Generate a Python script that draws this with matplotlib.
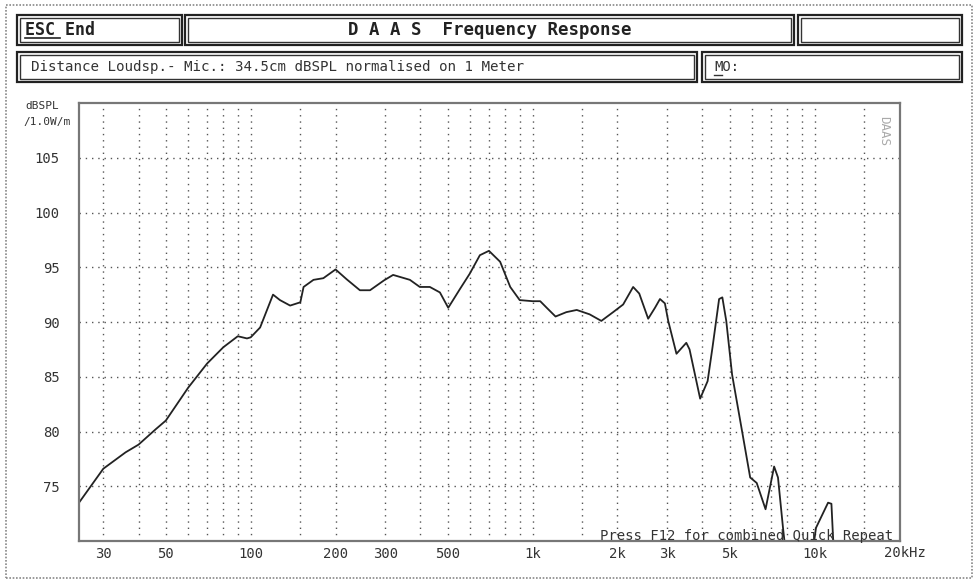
import matplotlib
matplotlib.use("Agg")
import matplotlib.pyplot as plt
from matplotlib.patches import Rectangle
from matplotlib.lines import Line2D
from matplotlib.ticker import FixedLocator, NullFormatter

# ---- data ----
freq_hz = [24.6, 30, 36, 40, 46, 50, 60, 70, 80, 90, 97, 100, 108, 120, 127, 138,
           150, 154, 167, 181, 200, 219, 244, 265, 297, 320, 367, 398, 432, 469,
           502, 552, 598, 650, 700, 767, 833, 900, 1000, 1064, 1122, 1206, 1317,
           1434, 1593, 1753, 1930, 2095, 2273, 2389, 2570, 2717, 2830, 2946, 3027,
           3238, 3509, 3603, 3929, 4176, 4347, 4587, 4710, 4863, 5100, 5527, 5912,
           6236, 6703, 6948, 7189, 7420, 7730, 7900, 8500, 9500, 10120, 11170,
           11480, 11700, 12500]
spl_db = [73.5, 76.6, 78.1, 78.8, 80.2, 81.0, 84.0, 86.2, 87.7, 88.7, 88.5, 88.6,
          89.5, 92.5, 92.0, 91.5, 91.8, 93.2, 93.85, 94.0, 94.8, 93.9, 92.9, 92.9,
          93.8, 94.3, 93.85, 93.2, 93.2, 92.7, 91.3, 93.0, 94.4, 96.1, 96.5, 95.5,
          93.2, 92.0, 91.9, 91.9, 91.3, 90.5, 90.9, 91.1, 90.7, 90.1, 90.9, 91.6,
          93.2, 92.6, 90.3, 91.3, 92.1, 91.7, 90.1, 87.1, 88.1, 87.5, 83.0, 84.6,
          87.7, 92.1, 92.25, 90.1, 85.2, 80.1, 75.8, 75.3, 72.9, 74.9, 76.8, 75.8,
          71.2, 69.0, 66.0, 66.0, 71.2, 73.5, 73.4, 69.0, 66.0]

x_label_ticks = [30, 50, 100, 200, 300, 500, 1000, 2000, 3000, 5000, 10000]
x_label_texts = ["30", "50", "100", "200", "300", "500", "1k", "2k", "3k", "5k", "10k"]
x_grid = [30, 40, 50, 60, 70, 80, 90, 100, 150, 200, 300, 400, 500, 600, 700, 800,
          900, 1000, 1500, 2000, 3000, 4000, 5000, 6000, 7000, 8000, 9000, 10000, 15000]
y_ticks = [75, 80, 85, 90, 95, 100, 105]

W, H = 976, 580
MONO = ["DejaVu Sans Mono"]

def fx(x):
    return x / W

def fy(y):
    return 1 - y / H

fig = plt.figure(figsize=(W / 100, H / 100), dpi=100)
fig.patch.set_facecolor("white")

# outer dotted border
fig.add_artist(Rectangle((fx(6), fy(578)), (972 - 6) / W, (578 - 5) / H,
                         transform=fig.transFigure, fill=False, ec="#888888",
                         lw=1.2, ls=(0, (1, 1))))

# header boxes (double line)
boxes = [(17, 15, 182, 45), (185, 15, 794, 45), (798, 15, 962, 45),
         (17, 52, 697, 82), (702, 52, 962, 82)]
for (x0, y0, x1, y1) in boxes:
    fig.add_artist(Rectangle((fx(x0), fy(y1)), (x1 - x0) / W, (y1 - y0) / H,
                             transform=fig.transFigure, fill=False, ec="#222222", lw=1.6))
    fig.add_artist(Rectangle((fx(x0 + 3), fy(y1 - 3)), (x1 - x0 - 6) / W, (y1 - y0 - 6) / H,
                             transform=fig.transFigure, fill=False, ec="#333333", lw=1.0))

fig.text(fx(25), fy(30), "ESC End", family=MONO, fontsize=12, fontweight="bold",
         ha="left", va="center", color="#222222")
fig.add_artist(Line2D([fx(25), fx(60)], [fy(38), fy(38)], transform=fig.transFigure,
                      color="#222222", lw=1.2))
fig.text(fx(490), fy(30), "D A A S  Frequency Response", family=MONO, fontsize=12.5,
         fontweight="bold", ha="center", va="center", color="#222222")
fig.text(fx(31), fy(67), "Distance Loudsp.- Mic.: 34.5cm dBSPL normalised on 1 Meter",
         family=MONO, fontsize=10.2, ha="left", va="center", color="#333333")
fig.text(fx(714), fy(67), "MO:", family=MONO, fontsize=10, ha="left", va="center",
         color="#333333")
fig.add_artist(Line2D([fx(714), fx(722)], [fy(75), fy(75)], transform=fig.transFigure,
                      color="#333333", lw=1.0))

# plot area
ax = fig.add_axes([fx(79), fy(541), (900 - 79) / W, (541 - 103) / H])
ax.plot(freq_hz, spl_db, color="#222222", lw=1.3, solid_joinstyle="round")
ax.set_xscale("log")
ax.set_xlim(24.6, 20100)
ax.set_ylim(70, 110)

ax.xaxis.set_major_locator(FixedLocator(x_label_ticks))
ax.set_xticklabels(x_label_texts)
ax.xaxis.set_minor_locator(FixedLocator(x_grid))
ax.xaxis.set_minor_formatter(NullFormatter())
ax.set_yticks(y_ticks)
ax.set_yticklabels([str(v) for v in y_ticks])

ax.tick_params(axis="both", which="both", length=0)
ax.tick_params(axis="x", pad=4, labelsize=10, labelcolor="#333333")
ax.tick_params(axis="y", pad=14, labelsize=10, labelcolor="#333333")
for lab in ax.get_xticklabels() + ax.get_yticklabels():
    lab.set_family(MONO)

ax.grid(False)
for xv in x_grid:
    ax.axvline(xv, color="#555555", lw=1.0, ls=(0, (1, 3.5)), zorder=0)
for yv in y_ticks:
    ax.axhline(yv, color="#555555", lw=1.0, ls=(0, (1, 3.5)), zorder=0)

for sp in ax.spines.values():
    sp.set_color("#777777")
    sp.set_linewidth(1.6)

# 20kHz label at right edge
fig.text(fx(884), fy(553), "20kHz", family=MONO, fontsize=10, ha="left", va="center",
         color="#333333")

# y-axis unit label
fig.text(fx(42), fy(106), "dBSPL", family=MONO, fontsize=8, ha="center", va="center",
         color="#333333")
fig.text(fx(47), fy(122), "/1.0W/m", family=MONO, fontsize=8, ha="center", va="center",
         color="#333333")

# corner mark and footer message
fig.text(fx(884), fy(131), "DAAS", family=MONO, fontsize=9, rotation=270,
         ha="center", va="center", color="#aaaaaa")
fig.text(fx(893), fy(536), "Press F12 for combined Quick Repeat", family=MONO,
         fontsize=10, ha="right", va="center", color="#333333")

fig.savefig("out.png", dpi=100, facecolor="white")
